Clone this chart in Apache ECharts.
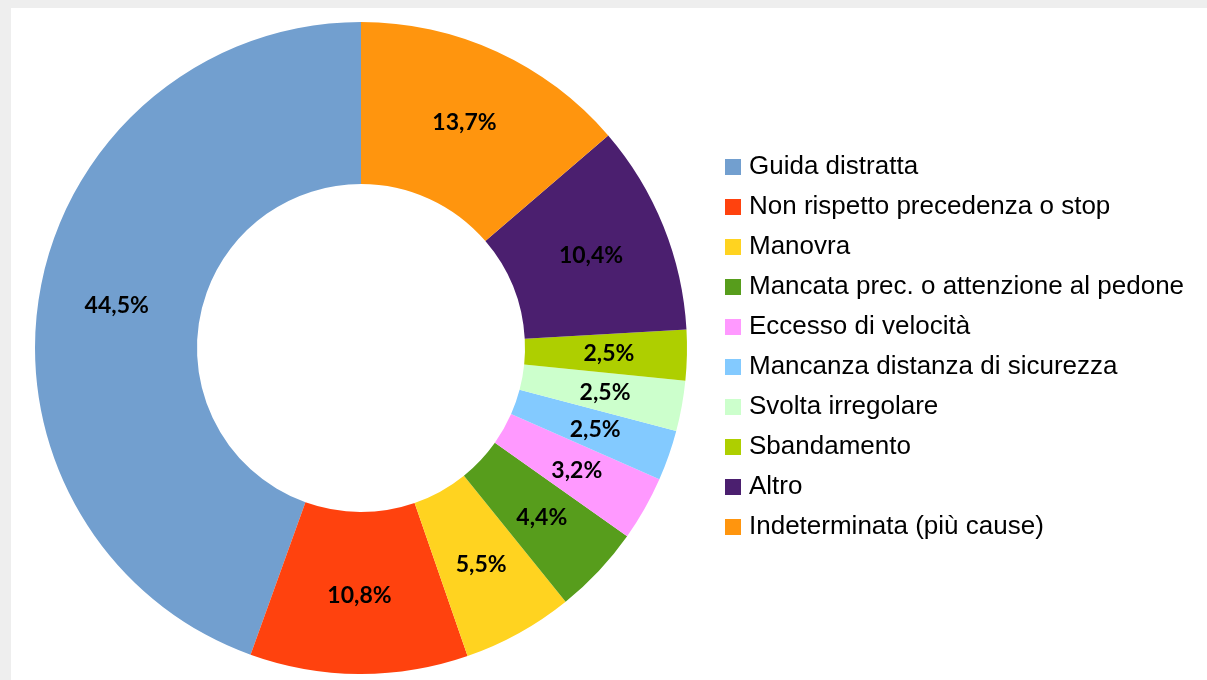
<!DOCTYPE html>
<html>
<head>
<meta charset="utf-8">
<script src="https://cdn.jsdelivr.net/npm/echarts@6/dist/echarts.min.js"></script>
<style>
  html, body { margin: 0; padding: 0; background: #eeeeee; }
  #chart {
    position: absolute;
    left: 11px;
    top: 8px;
    width: 1196px;
    height: 672px;
    background: #ffffff;
  }
</style>
</head>
<body>
<div id="chart"></div>
<script>
const categories = [
  "Guida distratta",
  "Non rispetto precedenza o stop",
  "Manovra",
  "Mancata prec. o attenzione al pedone",
  "Eccesso di velocità",
  "Mancanza distanza di sicurezza",
  "Svolta irregolare",
  "Sbandamento",
  "Altro",
  "Indeterminata (più cause)"
];
const percentages = [44.5, 10.8, 5.5, 4.4, 3.2, 2.5, 2.5, 2.5, 10.4, 13.7];
const colors = [
  "#729fcf", "#ff420e", "#ffd320", "#579d1c", "#ff99ff",
  "#83caff", "#ccffcc", "#aecf00", "#4b1f6f", "#ff950e"
];

const chart = echarts.init(document.getElementById("chart"));

const option = {
  animation: false,
  color: colors,
  legend: {
    orient: "vertical",
    left: 714,
    top: 139,
    padding: 0,
    itemWidth: 16,
    itemHeight: 16,
    itemGap: 0,
    icon: "rect",
    selectedMode: false,
    data: categories,
    textStyle: {
      fontFamily: "Liberation Sans",
      fontSize: 26,
      color: "#000000",
      lineHeight: 40,
      padding: [0, 0, 0, 3]
    }
  },
  series: [
    {
      name: "Cause",
      type: "pie",
      center: [350, 340],
      radius: [164, 326],
      startAngle: 90,
      clockwise: false,
      avoidLabelOverlap: false,
      label: {
        show: true,
        position: "inside",
        fontFamily: "Lato",
        fontWeight: "bold",
        fontSize: 23,
        color: "#000000",
        formatter: (p) => p.value.toFixed(1).replace(".", ",") + "%"
      },
      labelLine: { show: false },
      itemStyle: { borderWidth: 0 },
      emphasis: { disabled: true },
      data: categories.map((name, i) => ({ name, value: percentages[i] }))
    }
  ]
};

chart.setOption(option);
</script>
</body>
</html>
